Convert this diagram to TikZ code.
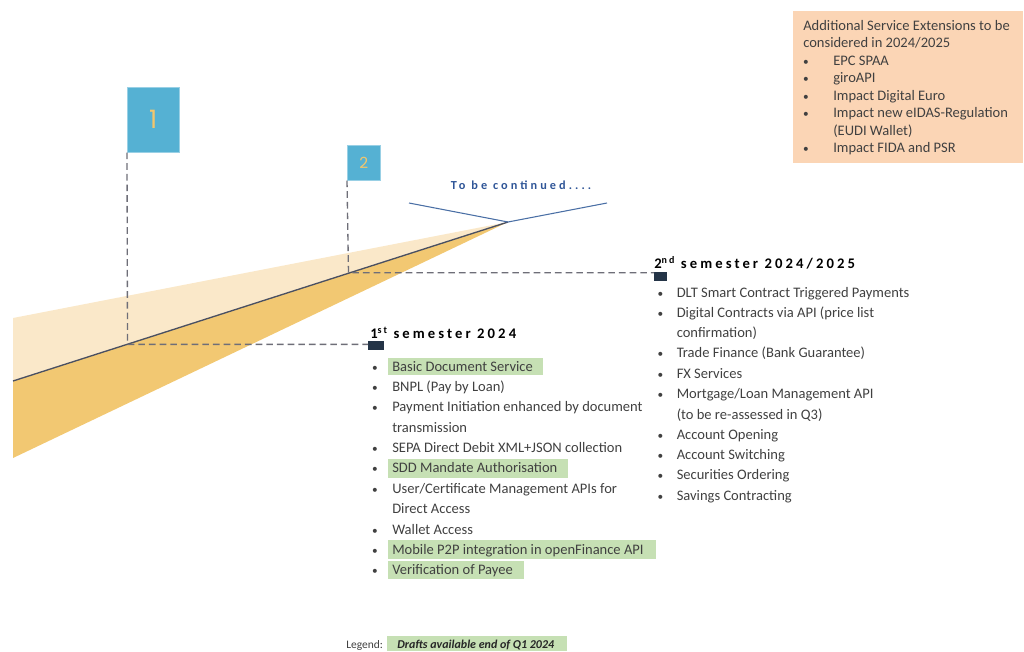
\documentclass[tikz,border=0pt]{standalone}
\usepackage{fontspec}
\setmainfont{Carlito}
\newfontfamily\flagfont{Poppins}
\definecolor{wedgeLight}{HTML}{FAE8C9}
\definecolor{wedgeDark}{HTML}{F2C872}
\definecolor{wedgeLine}{HTML}{4A5062}
\definecolor{flagBlue}{HTML}{55B1D3}
\definecolor{flagNum}{HTML}{F3C66C}
\definecolor{hl}{HTML}{C6E0B4}
\definecolor{peach}{HTML}{FBD5B5}
\definecolor{txt}{HTML}{404040}
\definecolor{dashgray}{HTML}{6E6E78}
\definecolor{sq}{HTML}{243447}
\definecolor{contblue}{HTML}{2F5597}
\definecolor{lineblue}{HTML}{4A6FA5}
\newcommand{\itemfont}{\fontsize{10.9}{13}\selectfont}
\newcommand{\headfont}{\fontsize{11}{13}\selectfont\bfseries\addfontfeatures{LetterSpace=21}}
\newcommand{\supx}[1]{\raisebox{0.3em}{\fontsize{7.5}{8}\selectfont #1}}
\tikzset{
  itm/.style={anchor=base west, inner sep=0pt, font=\itemfont, text=txt},
  bul/.style={anchor=base, inner sep=0pt, font=\fontsize{8.5}{10}\selectfont, text=txt},
  head/.style={anchor=base west, inner sep=0pt, font=\headfont, text=black},
  flagbox/.style={fill=flagBlue, draw=flagBlue!60!white, line width=0.4pt, inner sep=0pt, anchor=north west, text=flagNum},
  sqbox/.style={fill=sq, inner sep=0pt, anchor=north west},
  dashline/.style={draw=dashgray, line width=1pt, dash pattern=on 5pt off 3pt},
  hlbox/.style={fill=hl},
}
\begin{document}
\begin{tikzpicture}[x=0.75pt,y=-0.75pt]
\useasboundingbox (0,0) rectangle (1024,651);
% wedge
\coordinate (L0) at (13,381);
\coordinate (apex) at (508,222);
\coordinate (LT) at (13,318);
\coordinate (LB) at (13,458);
\fill[wedgeLight] (LT) -- (apex) -- (L0) -- cycle;
\fill[wedgeDark] (L0) -- (apex) -- (LB) -- cycle;
\draw[wedgeLine, line width=1pt] (L0) -- (apex);
\coordinate (P1) at (127.5,344.4);
\coordinate (P2) at (348.5,272.7);
% to be continued
\coordinate (vL) at (409,203);
\coordinate (vR) at (607,203);
\draw[lineblue, line width=0.8pt] (vL) -- (apex) -- (vR);
\node[anchor=base, inner sep=0pt, text=contblue, font=\fontsize{9.2}{11}\selectfont\bfseries\addfontfeatures{LetterSpace=25}] (cont) at (521,189) {To be continued....};
% flags
\node[flagbox, minimum width=39pt, minimum height=48.75pt, font=\flagfont\fontsize{19}{20}\selectfont] (flagA) at (127,87) {1};
\node[flagbox, minimum width=24.75pt, minimum height=26.25pt, font=\flagfont\fontsize{11.5}{12}\selectfont] (flagB) at (347,145) {2};
% squares
\node[sqbox, minimum width=12pt, minimum height=6.75pt] (sqA) at (368,341) {};
\node[sqbox, minimum width=9.75pt, minimum height=6.75pt] (sqB) at (654,272) {};
% dashed connectors
\draw[dashline] (flagA.south west) -- (P1) -- (P1 -| sqA.west);
\draw[dashline] (flagB.south west) -- (P2) -- (P2 -| sqB.west);
% headings
\node[head] (h1) at (370,338.3) {1\supx{st} semester 2024};
\node[head] (h2) at (654,268.3) {2\supx{nd} semester 2024/2025};
% highlights list 1
\path[hlbox] (388,358) rectangle (543,375);
\path[hlbox] (388,459) rectangle (568,478);
\path[hlbox] (388,540) rectangle (656,558.5);
\path[hlbox] (388,560.5) rectangle (524,578.5);
% list 1
\node[bul] (b11) at (375,371.7) {•};  \node[itm] (t11) at (392,371.7) {Basic Document Service};
\node[bul] (b12) at (375,391.7) {•};  \node[itm] (t12) at (392,391.7) {BNPL (Pay by Loan)};
\node[bul] (b13) at (375,411.9) {•};  \node[itm] (t13) at (392,411.9) {Payment Initiation enhanced by document};
\node[itm] (t13b) at (392,432.1) {transmission};
\node[bul] (b14) at (375,452.3) {•};  \node[itm] (t14) at (392,452.3) {SEPA Direct Debit XML+JSON collection};
\node[bul] (b15) at (375,472.9) {•};  \node[itm] (t15) at (392,472.9) {SDD Mandate Authorisation};
\node[bul] (b16) at (375,493.3) {•};  \node[itm] (t16) at (392,493.3) {User/Certificate Management APIs for};
\node[itm] (t16b) at (392,513.7) {Direct Access};
\node[bul] (b17) at (375,534) {•};    \node[itm] (t17) at (392,534) {Wallet Access};
\node[bul] (b18) at (375,554.4) {•};  \node[itm] (t18) at (392,554.4) {Mobile P2P integration in openFinance API};
\node[bul] (b19) at (375,574.8) {•};  \node[itm] (t19) at (392,574.8) {Verification of Payee};
% list 2
\node[bul] (b21) at (660.5,297.3) {•}; \node[itm] (t21) at (676.5,297.3) {DLT Smart Contract Triggered Payments};
\node[bul] (b22) at (660.5,317.4) {•}; \node[itm] (t22) at (676.5,317.4) {Digital Contracts via API (price list};
\node[itm] (t22b) at (676.5,337.5) {confirmation)};
\node[bul] (b23) at (660.5,357.8) {•}; \node[itm] (t23) at (676.5,357.8) {Trade Finance (Bank Guarantee)};
\node[bul] (b24) at (660.5,378.1) {•}; \node[itm] (t24) at (676.5,378.1) {FX Services};
\node[bul] (b25) at (660.5,398.6) {•}; \node[itm] (t25) at (676.5,398.6) {Mortgage/Loan Management API};
\node[itm] (t25b) at (676.5,419) {(to be re-assessed in Q3)};
\node[bul] (b26) at (660.5,439.3) {•}; \node[itm] (t26) at (676.5,439.3) {Account Opening};
\node[bul] (b27) at (660.5,459.5) {•}; \node[itm] (t27) at (676.5,459.5) {Account Switching};
\node[bul] (b28) at (660.5,479.8) {•}; \node[itm] (t28) at (676.5,479.8) {Securities Ordering};
\node[bul] (b29) at (660.5,500) {•};   \node[itm] (t29) at (676.5,500) {Savings Contracting};
% extensions box
\node[fill=peach, inner sep=0pt, anchor=north west, minimum width=172.8pt, minimum height=114pt] (ext) at (792.5,11) {};
\node[itm] (e0) at (803,30) {Additional Service Extensions to be};
\node[itm] (e0b) at (803,47.5) {considered in 2024/2025};
\node[bul] (eb1) at (806,65) {•};   \node[itm] (e1) at (833,65) {EPC SPAA};
\node[bul] (eb2) at (806,82.5) {•}; \node[itm] (e2) at (833,82.5) {giroAPI};
\node[bul] (eb3) at (806,100) {•};  \node[itm] (e3) at (833,100) {Impact Digital Euro};
\node[bul] (eb4) at (806,117.5) {•};\node[itm] (e4) at (833,117.5) {Impact new eIDAS-Regulation};
\node[itm] (e4b) at (833,135) {(EUDI Wallet)};
\node[bul] (eb5) at (806,152.5) {•};\node[itm] (e5) at (833,152.5) {Impact FIDA and PSR};
% legend
\node[itm, font=\fontsize{8.6}{10}\selectfont] (leg) at (346,648) {Legend:};
\node[fill=hl, inner sep=0pt, anchor=north west, minimum width=135pt, minimum height=11.25pt] (legbox) at (387,636) {};
\node[itm, text=black!85, font=\fontsize{9}{10}\selectfont\bfseries\itshape] (legt) at (397,648) {Drafts available end of Q1 2024};
\end{tikzpicture}
\end{document}
